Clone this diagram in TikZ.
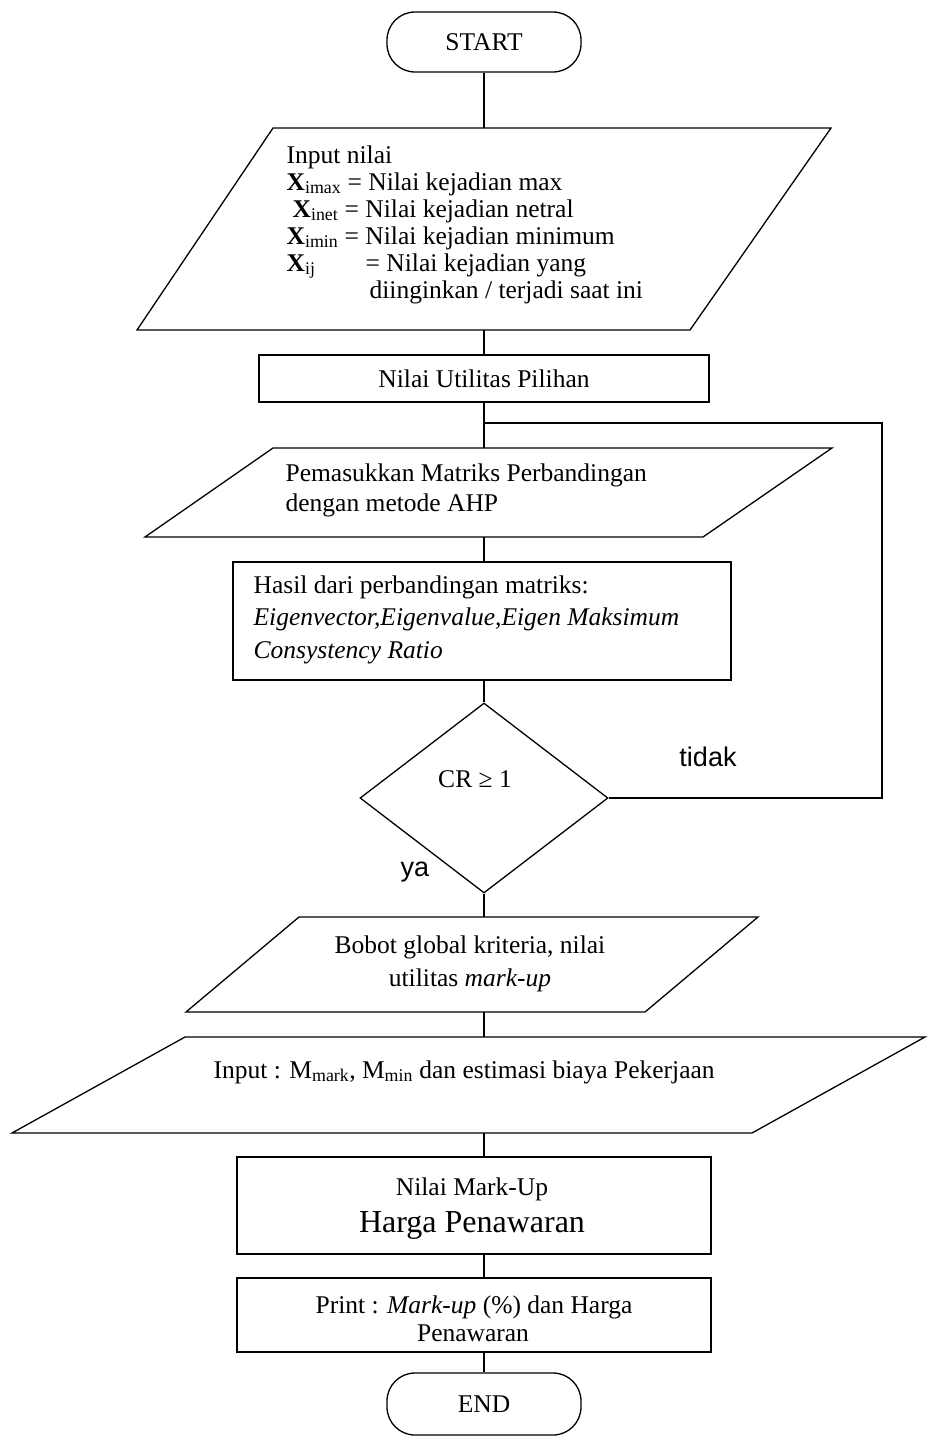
\documentclass[tikz,border=0pt]{standalone}
\usepackage{fontspec}
\setmainfont{Liberation Serif}
\newfontfamily\labelsans{Liberation Sans}
\usetikzlibrary{shapes.geometric,calc}
\begin{document}
\begin{tikzpicture}[x=1pt,y=-1pt,line width=1.3pt,
  every node/.style={font=\fontsize{25.5}{30}\selectfont},
  term/.style={draw,rectangle,rounded corners=28pt,minimum width=194pt,minimum height=60pt,inner sep=0pt},
  procbox/.style={draw,rectangle,inner sep=0pt},
  lt/.style={anchor=base west,inner sep=0pt},
  ct/.style={anchor=base,inner sep=0pt},
  sanslabel/.style={font=\labelsans\fontsize{27}{30}\selectfont,inner sep=0pt}]
\useasboundingbox (0,0) rectangle (927,1440);

% START
\node[term] (start) at (484,42) {START};

% input box 1
\draw (273,128) -- (831,128) -- (690,330) -- (137,330) -- cycle;
\coordinate (b1t) at (484,128);
\coordinate (b1b) at (484,330);
\node[lt] (t1a) at (286,163) {Input nilai};
\node[lt] (t1b) at (286,190) {\textbf{X}\textsubscript{imax} = Nilai kejadian max};
\node[lt] (t1c) at (292,217) {\textbf{X}\textsubscript{inet} = Nilai kejadian netral};
\node[lt] (t1d) at (286,244) {\textbf{X}\textsubscript{imin} = Nilai kejadian minimum};
\node[lt] (t1e) at (286,271) {\textbf{X}\textsubscript{ij}};
\node[lt] (t1f) at (365,271) {= Nilai kejadian yang};
\node[lt] (t1g) at (369,298) {diinginkan / terjadi saat ini};

% utilitas
\node[procbox,minimum width=450pt,minimum height=47pt] (util) at (484,378.5) {Nilai Utilitas Pilihan};

% loop join
\coordinate (lj) at (484,423);
\coordinate (loopc) at (882,423);

% box 3
\draw (273,448) -- (832,448) -- (703,537) -- (145,537) -- cycle;
\coordinate (b3t) at (484,448);
\coordinate (b3b) at (484,537);
\node[lt] (t3a) at (285,481) {Pemasukkan Matriks Perbandingan};
\node[lt] (t3b) at (285,511) {dengan metode AHP};

% box 4
\node[procbox,minimum width=498pt,minimum height=118pt] (b4) at (482,621) {};
\node[lt] (t4a) at (253,593) {Hasil dari perbandingan matriks:};
\node[lt] (t4b) at (253,625) {\textit{Eigenvector,Eigenvalue,Eigen Maksimum}};
\node[lt] (t4c) at (253,658) {\textit{Consystency Ratio}};

% decision
\node[draw,diamond,minimum width=248pt,minimum height=190pt,inner sep=0pt] (dia) at (484,798) {};
\node[ct] (cr) at (475,787) {CR ≥ 1};
\node[sanslabel] (tidak) at (708,757) {tidak};
\node[sanslabel] (ya) at (415,872) {ya};

% box 5
\draw (299,917) -- (758,917) -- (645,1012) -- (186,1012) -- cycle;
\coordinate (b5t) at (484,917);
\coordinate (b5b) at (484,1012);
\node[ct] (t5a) at (470,953) {Bobot global kriteria, nilai};
\node[ct] (t5b) at (470,986) {utilitas \textit{mark-up}};

% box 6
\draw (185,1037) -- (925,1037) -- (752,1133) -- (12,1133) -- cycle;
\coordinate (b6t) at (484,1037);
\coordinate (b6b) at (484,1133);
\node[lt] (t6) at (213,1078) {Input : M\textsubscript{mark}, M\textsubscript{min} dan estimasi biaya Pekerjaan};

% box 7
\node[procbox,minimum width=474pt,minimum height=97pt] (b7) at (474,1205.5) {};
\node[ct] (t7a) at (472,1195) {Nilai Mark-Up};
\node[ct,font=\fontsize{32}{36}\selectfont] (t7b) at (472,1232) {Harga Penawaran};

% box 8
\node[procbox,minimum width=474pt,minimum height=74pt] (b8) at (474,1315) {};
\node[ct] (t8a) at (474,1313) {Print : \textit{Mark-up} (\%) dan Harga};
\node[ct] (t8b) at (473,1341) {Penawaran};

% END
\node[term,minimum height=62pt] (end) at (484,1404) {END};

% connectors
\draw (start.south) -- (b1t);
\draw (b1b) -- (util.north);
\draw (util.south) -- (b3t);
\draw (b3b) -- (b3b |- b4.north);
\draw (b4.south -| dia.north) -- (dia.north);
\draw (dia.south) -- (b5t);
\draw (b5b) -- (b6t);
\draw (b6b) -- (b6b |- b7.north);
\draw (b7.south -| b6b) -- (b8.north -| b6b);
\draw (b8.south -| end.north) -- (end.north);
\draw (dia.east) -| (loopc) -- (lj);
\end{tikzpicture}
\end{document}
